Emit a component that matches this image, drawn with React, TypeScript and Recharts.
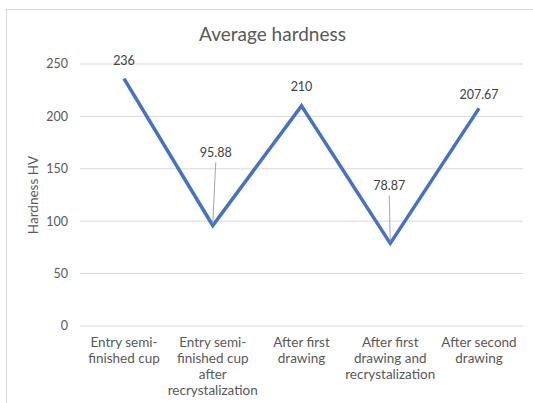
import { LineChart, Line, XAxis, YAxis, CartesianGrid, LabelList } from "recharts";

const categories = [
  "Entry semi-\nfinished cup",
  "Entry semi-\nfinished cup\nafter\nrecrystalization",
  "After first\ndrawing",
  "After first\ndrawing and\nrecrystalization",
  "After second\ndrawing",
];
const hardness = [236, 95.88, 210, 78.87, 207.67];
const yTicks = [0, 50, 100, 150, 200, 250];

const data = categories.map((name, i) => ({ name, hardness: hardness[i] }));

const FONT = "Lato, 'Open Sans', sans-serif";
const GREY = "#595959";

// how far above the point each value label sits (valleys get leader lines)
const labelLift = [18, 73, 19, 58, 14];
const labelShift = [0, 3, 0, -1, 0];

function CategoryTick({ x, y, payload }: any) {
  const lines = String(payload.value).split("\n");
  return (
    <text x={x} y={y} textAnchor="middle" fill={GREY} fontSize={13.5} fontFamily={FONT}>
      {lines.map((l, i) => (
        <tspan key={i} x={x} dy={i === 0 ? 13 : 16}>
          {l}
        </tspan>
      ))}
    </text>
  );
}

function ValueLabel({ x, y, value, index }: any) {
  const lift = labelLift[index] ?? 16;
  const lx = x + (labelShift[index] ?? 0);
  const ly = y - lift;
  const leader = lift > 40;
  return (
    <g>
      {leader && <line x1={x} y1={y - 2} x2={lx} y2={ly + 10} stroke="#a6a6a6" strokeWidth={1} />}
      <text x={lx} y={ly} textAnchor="middle" dominantBaseline="central" fill="#404040" fontSize={12.5} fontFamily={FONT}>
        {value}
      </text>
    </g>
  );
}

export default function App() {
  return (
    <div style={{ position: "absolute", left: 0, top: 0, width: 533, height: 403, overflow: "hidden", background: "#fff" }}>
      <div
        style={{
          position: "absolute",
          left: 6,
          top: 9,
          width: 600,
          height: 500,
          border: "1px solid #d9d9d9",
          boxSizing: "border-box",
        }}
      />
      <div
        style={{
          position: "absolute",
          left: 0,
          top: 22,
          width: 545,
          textAlign: "center",
          fontFamily: FONT,
          fontSize: 19,
          color: GREY,
          lineHeight: "24px",
        }}
      >
        Average hardness
      </div>
      <div style={{ position: "absolute", left: 0, top: 0 }}>
        <LineChart width={533} height={403} data={data} margin={{ top: 64, right: 10, left: 0, bottom: 0 }}>
          <CartesianGrid vertical={false} stroke="#d9d9d9" strokeWidth={1} />
          <XAxis
            dataKey="name"
            axisLine={false}
            tickLine={false}
            height={77}
            interval={0}
            padding={{ left: 44, right: 44 }}
            tick={<CategoryTick />}
          />
          <YAxis
            width={80}
            domain={[0, 250]}
            ticks={yTicks}
            axisLine={false}
            tickLine={false}
            tickMargin={6}
            tick={{ fill: GREY, fontSize: 12.5, fontFamily: FONT }}
            label={(props: any) => {
              const vb = props.viewBox;
              const cy = vb.y + vb.height / 2;
              return (
                <text
                  x={33}
                  y={cy}
                  transform={`rotate(-90 33 ${cy})`}
                  textAnchor="middle"
                  dominantBaseline="central"
                  fill={GREY}
                  fontSize={13.5}
                  fontFamily={FONT}
                >
                  Hardness HV
                </text>
              );
            }}
          />
          <Line
            type="linear"
            dataKey="hardness"
            stroke="#4472c4"
            strokeWidth={3.5}
            dot={false}
            activeDot={false}
            isAnimationActive={false}
          >
            <LabelList dataKey="hardness" content={<ValueLabel />} />
          </Line>
        </LineChart>
      </div>
    </div>
  );
}
